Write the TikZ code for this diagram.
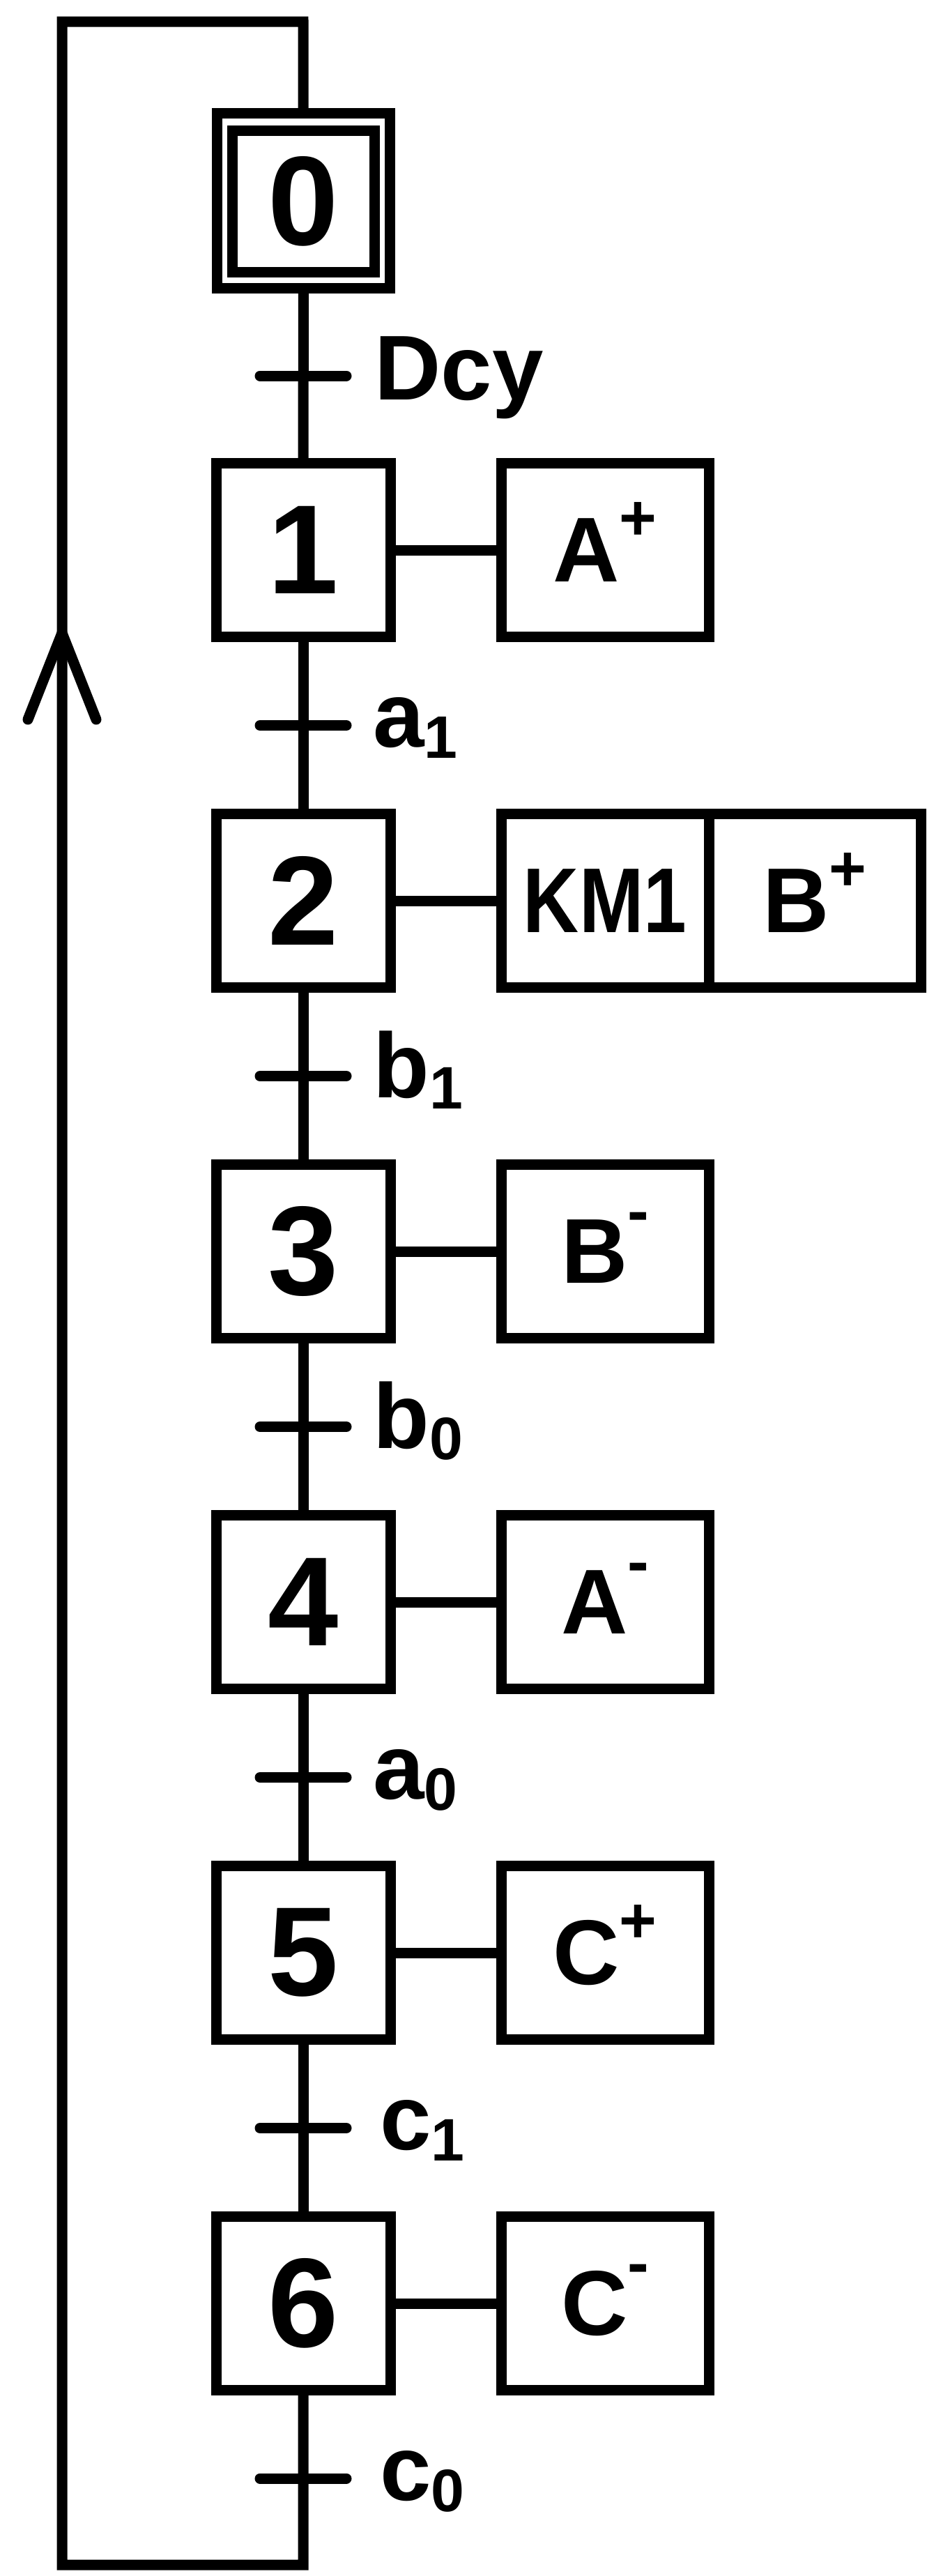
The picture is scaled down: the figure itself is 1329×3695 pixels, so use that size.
\documentclass[tikz,border=0pt]{standalone}
\usepackage{fontspec}
\setmainfont{Liberation Sans}
\newfontfamily\narrowfont{Liberation Sans}[FakeStretch=0.84]
\newcommand{\supplus}{\smash{\raisebox{30pt}{\fontsize{46}{46}\selectfont +}}}
\newcommand{\supminus}{\smash{\raisebox{36pt}{\fontsize{46}{46}\selectfont -}}}
\newcommand{\subidx}[1]{\raisebox{-8pt}{\fontsize{43}{43}\selectfont #1}}
\begin{document}
\begin{tikzpicture}[x=0.5pt,y=-0.5pt,line width=7.5pt,
  stepbox/.style={draw,minimum width=125pt,minimum height=124.5pt,inner sep=0pt,outer sep=0pt,font=\fontsize{91}{91}\selectfont\bfseries},
  actbox/.style={draw,minimum width=149pt,minimum height=124.5pt,inner sep=0pt,outer sep=0pt,font=\fontsize{66}{66}\selectfont\bfseries},
  tickmark/.style={line cap=round},
  lab/.style={anchor=base west,inner sep=0pt,font=\fontsize{66}{66}\selectfont\bfseries}]
\useasboundingbox (0,0) rectangle (1329,3695);

% initial step
\node[draw,minimum width=124pt,minimum height=125.5pt,inner sep=0pt,outer sep=0pt] (s0) at (435.5,288) {};
\node[stepbox,minimum width=102pt,minimum height=101.5pt] (s0in) at (435.5,289) {0};

% steps
\node[stepbox] (s1) at (435,789) {1};
\node[stepbox] (s2) at (435,1292) {2};
\node[stepbox] (s3) at (435,1795) {3};
\node[stepbox] (s4) at (435,2298) {4};
\node[stepbox] (s5) at (435,2801) {5};
\node[stepbox] (s6) at (435,3304) {6};

% actions
\node[actbox] (a1) at (868,789) {A\supplus};
\node[actbox] (a2) at (868,1292) {\narrowfont\bfseries KM1};
\node[actbox,minimum width=152pt] (a2b) at (1169,1292) {B\supplus};
\node[actbox] (a3) at (868,1795) {B\supminus};
\node[actbox] (a4) at (868,2298) {A\supminus};
\node[actbox] (a5) at (868,2801) {C\supplus};
\node[actbox] (a6) at (868,3304) {C\supminus};

\foreach \i in {1,...,6} {\draw (s\i) -- (a\i);}

% spine
\draw (s0) -- (s1);
\draw (s1) -- (s2);
\draw (s2) -- (s3);
\draw (s3) -- (s4);
\draw (s4) -- (s5);
\draw (s5) -- (s6);

% transitions
\coordinate (t0) at (435,539);
\coordinate (t1) at (435,1040.5);
\coordinate (t2) at (435,1543.5);
\coordinate (t3) at (435,2046.5);
\coordinate (t4) at (435,2549.5);
\coordinate (t5) at (435,3052.5);
\coordinate (t6) at (435,3555);
\foreach \t in {t0,t1,t2,t3,t4,t5,t6} {\draw[tickmark] ([xshift=-31pt]\t) -- ([xshift=31pt]\t);}

\node[lab] (l0) at (530,573) {Dcy};
\node[lab] (l1) at (528,1071) {a\subidx{1}};
\node[lab] (l2) at (528,1574) {b\subidx{1}};
\node[lab] (l3) at (528,2077) {b\subidx{0}};
\node[lab] (l4) at (528,2580) {a\subidx{0}};
\node[lab] (l5) at (538,3083) {c\subidx{1}};
\node[lab] (l6) at (538,3586) {c\subidx{0}};

% return loop
\coordinate (bot) at (435,3679);
\coordinate (botL) at (89,3679);
\coordinate (topL) at (89,31);
\coordinate (topR) at (435,31);
\draw[line join=miter] (s6) -- (bot) -- (botL) -- (topL) -- (topR) -- (s0);
\draw[line width=7.5pt,line cap=round,line join=round] (40,1032) -- (89,908) -- (138,1032);
\end{tikzpicture}
\end{document}
